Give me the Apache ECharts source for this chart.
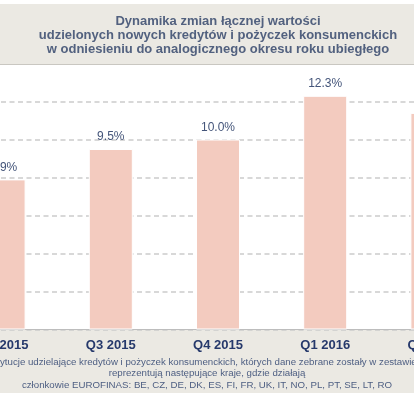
<!DOCTYPE html>
<html>
<head>
<meta charset="utf-8">
<script src="https://cdn.jsdelivr.net/npm/echarts@6/dist/echarts.min.js"></script>
<style>
  html, body { margin: 0; padding: 0; background: #fff; }
  #wrap { position: relative; width: 414px; height: 398px; overflow: hidden; }
  #chart { position: absolute; left: -50px; top: 0; width: 586px; height: 398px; }
</style>
</head>
<body>
<div id="wrap"><div id="chart"></div></div>
<script>
// kwartały (pierwszy i ostatni są ucięte na brzegach)
const quarters = ['Q2 2015', 'Q3 2015', 'Q4 2015', 'Q1 2016', 'Q2 2016'];
// dynamika r/r w %
const dynamika = [7.9, 9.5, 10.0, 12.3, 11.4];
const yTicks = [0, 2, 4, 6, 8, 10, 12, 14];

const titleLines = [
  'Dynamika zmian łącznej wartości',
  'udzielonych nowych kredytów i pożyczek konsumenckich',
  'w odniesieniu do analogicznego okresu roku ubiegłego'
];
const footLines = [
  'Instytucje udzielające kredytów i pożyczek konsumenckich, których dane zebrane zostały w zestawieniu',
  'reprezentują następujące kraje, gdzie działają',
  'członkowie EUROFINAS: BE, CZ, DE, DK, ES, FI, FR, UK, IT, NO, PL, PT, SE, LT, RO'
];

const beige = '#ebe9e3';
const font = 'Liberation Sans, Arial, sans-serif';
const dx = 50; // przesunięcie wykresu względem okna

let graphics = [
  { type: 'rect', z: 100, shape: { x: 0, y: 4, width: 586, height: 60 }, style: { fill: beige } },
  { type: 'line', z: 100, shape: { x1: 0, y1: 64.5, x2: 586, y2: 64.5 }, style: { stroke: '#c9c7c1', lineWidth: 1 } },
  { type: 'rect', z: -10, shape: { x: 0, y: 329.5, width: 586, height: 63.5 }, style: { fill: beige } }
];
titleLines.forEach((t, i) => {
  graphics.push({
    type: 'text', z: 101, x: 218 + dx, y: 21.5 + i * 13.9,
    style: { text: t, fill: '#52617f', font: 'bold 13px ' + font, textAlign: 'center', textVerticalAlign: 'middle' }
  });
});
footLines.forEach((t, i) => {
  graphics.push({
    type: 'text', z: 101, x: 207 + dx, y: 362 + i * 11.5,
    style: { text: t, fill: '#4d5e82', font: '9.7px ' + font, textAlign: 'center', textVerticalAlign: 'middle' }
  });
});

let option = {
  animation: false,
  grid: { left: 0, top: 63.5, width: 536, height: 266 },
  xAxis: {
    type: 'category',
    data: quarters,
    axisLine: { lineStyle: { color: '#bdbdbd', width: 1 } },
    axisTick: { length: 4, lineStyle: { color: '#9a9a9a' } },
    axisLabel: { margin: 9, color: '#26396b', fontWeight: 'bold', fontSize: 13, fontFamily: font }
  },
  yAxis: {
    type: 'value',
    min: yTicks[0],
    max: yTicks[yTicks.length - 1],
    interval: 2,
    axisLine: { show: false },
    axisTick: { show: false },
    axisLabel: { show: false },
    splitLine: { lineStyle: { color: '#cbcbcb', width: 1.5, type: [5, 3.5] } }
  },
  series: [{
    type: 'bar',
    data: dynamika,
    barWidth: 44,
    itemStyle: { color: '#f3cbbf', borderColor: '#fff', borderWidth: 1 },
    label: {
      show: true,
      position: 'top',
      distance: 6,
      color: '#44557a',
      fontSize: 12,
      fontFamily: font,
      formatter: p => p.value.toFixed(1) + '%'
    }
  }],
  graphic: graphics
};

echarts.init(document.getElementById('chart')).setOption(option);
</script>
</body>
</html>
